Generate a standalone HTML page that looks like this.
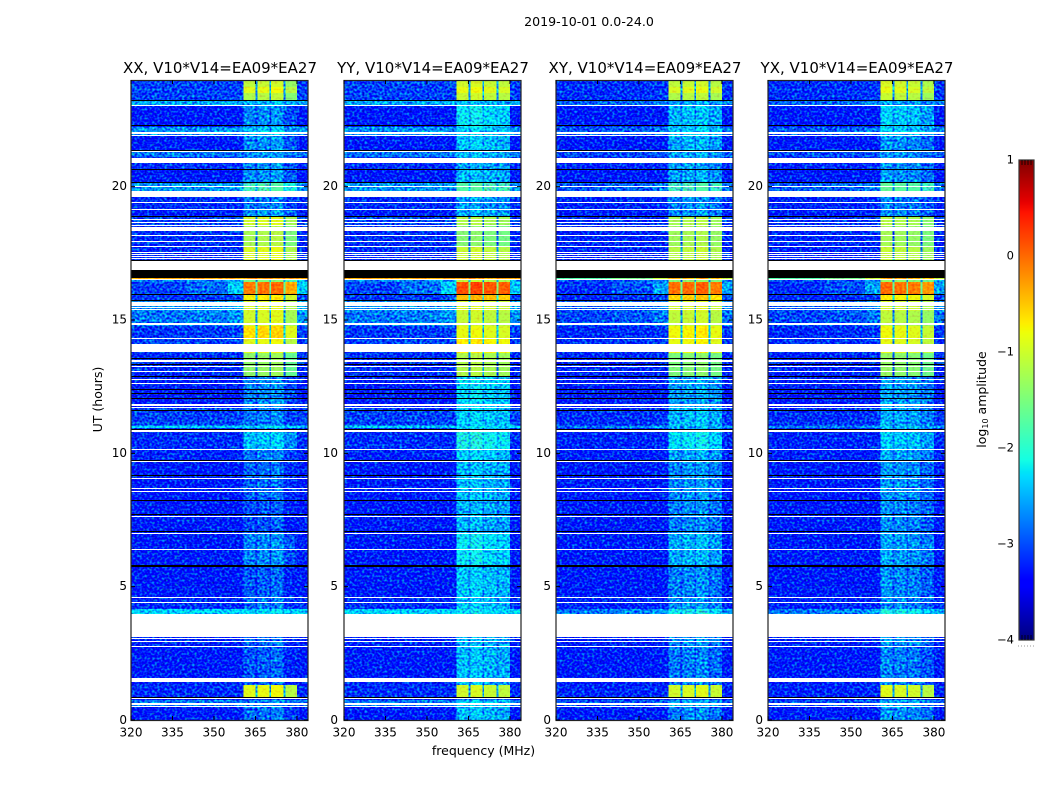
<!DOCTYPE html>
<html>
<head>
<meta charset="utf-8">
<title>2019-10-01 0.0-24.0</title>
<style>
html,body{margin:0;padding:0;background:#fff;}
svg{display:block;font-family:"DejaVu Sans","Liberation Sans",sans-serif;}
text{fill:#000;}
</style>
</head>
<body>
<svg id="chart" xmlns="http://www.w3.org/2000/svg" width="1050" height="800" viewBox="0 0 1050 800">
<defs>
<filter id="speckle" x="0" y="0" width="100%" height="100%" color-interpolation-filters="sRGB">
<feTurbulence type="fractalNoise" baseFrequency="0.4 0.45" numOctaves="1" seed="7" result="n"/>
<feColorMatrix in="n" type="matrix" values="0 0 0 0 0.5  1.9 0 0 0 -0.5  0 1 0 0 0.03  0 0 0 0 1" result="g"/>
<feComposite in="SourceGraphic" in2="g" operator="arithmetic" k1="0" k2="1" k3="1" k4="-0.5" result="m"/>
<feComposite in="m" in2="SourceAlpha" operator="in"/>
</filter>
<filter id="speckle-soft" x="0" y="0" width="100%" height="100%" color-interpolation-filters="sRGB">
<feTurbulence type="fractalNoise" baseFrequency="0.4 0.45" numOctaves="1" seed="11" result="n"/>
<feColorMatrix in="n" type="matrix" values="0 0 0 0 0.5  0.6 0 0 0 0.2  0 0 0 0 0.5  0 0 0 0 1" result="g"/>
<feComposite in="SourceGraphic" in2="g" operator="arithmetic" k1="0" k2="1" k3="1" k4="-0.5" result="m"/>
<feComposite in="m" in2="SourceAlpha" operator="in"/>
</filter>
</defs>
<text x="589" y="26" text-anchor="middle" font-size="12.6">2019-10-01 0.0-24.0</text>
<text x="483.5" y="755" text-anchor="middle" font-size="12.5">frequency (MHz)</text>
<text transform="translate(102 399.5) rotate(-90)" text-anchor="middle" font-size="12.5">UT (hours)</text>
<text transform="translate(986 399.5) rotate(-90)" text-anchor="middle" font-size="12.5">log<tspan font-size="8" dy="2">10</tspan><tspan dy="-2"> amplitude</tspan></text>
<g id="panels"></g>
<g id="colorbar"></g>
</svg>
<script>
/* ---- chart data (log10 amplitude; hours UT; MHz) ---- */
const panelTitles = ['XX, V10*V14=EA09*EA27','YY, V10*V14=EA09*EA27','XY, V10*V14=EA09*EA27','YX, V10*V14=EA09*EA27'];
const freqTicks = [320,335,350,365,380];
const utTicks = [0,5,10,15,20];
const colorbarTicks = [-4,-3,-2,-1,0,1];
/* upper UT bound of each observed time block */
const segmentTopUT = [0.49,0.75,0.87,1.31,1.61,2.81,3.98,4.16,4.58,5.78,7.01,8.21,9.68,10.16,10.8,10.95,11.04,11.7,12.9,13.76,14.29,14.78,15.34,15.71,15.94,16.43,16.54,16.6,17.21,17.74,18.53,18.86,19.12,19.84,20.14,20.63,21.11,21.3,21.9,22.24,23.06,23.21,23.51,23.74,24];
const backgroundLevel = [-3.2,-2.75,-3.2,-3.1,-3.15,-3.2,-3.15,-2.3,-3.1,-3.2,-3.2,-3.2,-3.2,-3.15,-3.1,-3.1,-2.3,-3,-3.2,-3.1,-3,-3.05,-2.75,-2.65,-3.05,-3,-2.7,-0.35,-3.1,-3.1,-3.1,-3,-3.2,-3.1,-2.6,-3.2,-3.1,-2.75,-3.2,-2.6,-3.2,-2.5,-3,-3,-3];
const shoulderLevel = [-3.2,-2.75,-3.2,-3.1,-3.15,-3.2,-3.15,-2.3,-3.1,-3.2,-3.2,-3.2,-3.2,-3.15,-3.1,-3.1,-2.3,-3,-3.2,-3.1,-3,-3,-2.6,-2.5,-2.95,-2.3,-2.5,-0.35,-3.1,-3.1,-3.1,-3,-3.2,-3.1,-2.6,-3.2,-3.1,-2.75,-3.2,-2.6,-3.2,-2.5,-3,-3,-3];
const rfiXX = [-2.75,-2.7,-3,-0.85,-2.85,-2.85,-2.8,-2.25,-2.75,-2.85,-2.65,-2.9,-2.8,-2.7,-2.35,-2.75,-2.3,-2.7,-2.65,-1.35,-0.85,-0.6,-0.95,-0.9,-0.7,-0.05,-1.5,-0.35,-0.9,-0.9,-1.2,-0.95,-2.55,-2.7,-1.8,-2.6,-2.6,-2.6,-2.6,-2.3,-2.65,-2.4,-1.15,-0.85,-1.05];
const rfiYY = [-2.4,-2.3,-2.8,-1,-2.45,-2.4,-2.45,-2.2,-2.35,-2.35,-2.2,-2.45,-2.4,-2.3,-2.1,-2.4,-2.3,-2.3,-2.25,-1.2,-0.7,-0.85,-1.05,-0.95,-0.45,0.15,-1.1,-0.35,-1,-1.05,-1.45,-1.2,-2.45,-2.55,-1.75,-2.4,-2.5,-2.4,-2.35,-2.3,-2.2,-2.4,-1.05,-0.85,-1];
const rfiXY = [-2.65,-2.5,-2.9,-0.95,-2.7,-2.7,-2.6,-2.1,-2.6,-2.65,-2.45,-2.65,-2.6,-2.5,-2.2,-2.5,-2.4,-2.4,-2.5,-1.45,-0.8,-0.75,-1.05,-0.95,-0.55,0,-1.4,-0.35,-1.1,-1.1,-1.25,-1.2,-2.6,-2.65,-1.8,-2.5,-2.55,-2.5,-2.45,-2.3,-2.4,-2.5,-1.15,-0.9,-1.05];
const rfiYX = [-2.6,-2.5,-2.9,-0.95,-2.7,-2.7,-2.6,-2.1,-2.65,-2.65,-2.55,-2.65,-2.6,-2.5,-2.35,-2.5,-2.4,-2.5,-2.55,-1.4,-0.9,-0.85,-1.15,-1,-0.75,-0.05,-1.4,-0.35,-1.1,-1.1,-1.3,-1.2,-2.65,-2.7,-1.7,-2.6,-2.6,-2.6,-2.6,-2.3,-2.35,-2.5,-1.1,-0.9,-1];
const rfiByPanel = [rfiXX,rfiYY,rfiXY,rfiYX];
/* relative level of the four RFI sub-bands in each polarisation */
const bandOffsetXX = [-0.05,0,0.05,-0.3];
const bandOffsetYY = [0,0.05,-0.05,-0.1];
const bandOffsetXY = [-0.05,0,0.05,-0.1];
const bandOffsetYX = [0.05,0,-0.05,-0.2];
const bandOffsets = [bandOffsetXX,bandOffsetYY,bandOffsetXY,bandOffsetYX];
const backgroundGain = [1,1,0.5,0.5];
/* frequency channels: kind is bg / mid / shoulder / band / gap / edge */
const channelEdgesMHz = [320,340,355,360.6,365,365.7,370,370.7,375.1,375.8,380,384];
const channelKinds = ['bg','mid','shoulder','band','gap','band','gap','band','gap','band','edge'];
/* flagged time ranges, drawn white (no data) */
const flaggedRangesUT = [[0.49,0.52],[0.58,0.62],[0.79,0.82],[1.44,1.59],[2.72,2.76],[2.91,2.95],[3.02,3.06],[3.12,3.98],[4.37,4.41],[4.56,4.6],[6.39,6.43],[6.99,7.03],[7.6,7.64],[8.54,8.58],[8.66,8.7],[9.05,9.09],[9.66,9.7],[10.12,10.16],[10.8,10.88],[11.72,11.75],[11.78,11.84],[12.59,12.62],[12.77,12.8],[13.07,13.1],[13.26,13.29],[13.42,13.45],[13.48,13.51],[13.79,14.09],[14.27,14.31],[14.81,14.9],[15.37,15.41],[15.47,15.5],[15.52,15.66],[16.5,16.54],[16.88,17.21],[17.31,17.33],[17.38,17.4],[17.46,17.48],[17.53,17.56],[17.74,17.77],[17.95,17.98],[18.16,18.19],[18.33,18.5],[18.54,18.57],[18.66,18.69],[18.75,18.78],[19.13,19.16],[19.38,19.41],[19.62,19.85],[20,20.04],[20.89,21.09],[21.29,21.32],[21.89,21.92],[21.99,22.05],[23.05,23.08]];
/* zero-amplitude time ranges, drawn black (below colour scale) */
const zeroRangesUT = [[0.82,0.86],[5.74,5.8],[7.05,7.1],[7.68,7.73],[8.2,8.25],[9.15,9.19],[9.71,9.75],[10.88,10.92],[11.57,11.61],[12.02,12.06],[12.21,12.25],[12.36,12.4],[12.86,12.9],[13.3,13.34],[13.54,13.57],[15.72,15.76],[15.94,15.98],[16.58,16.88],[17.2,17.24],[18.85,18.9],[20.13,20.16],[20.63,20.66],[21.34,21.38],[22.26,22.3],[23.21,23.25]];

/* ---- layout and scales ---- */
const panelLeft = [131,344,556,768];
const yLabelGap = [4,6,5,5];
const panelWidth = 177, plotTop = 80, plotBottom = 720;
const freqMin = 320, freqMax = 384, utMax = 24, colorMin = -4, colorMax = 1;
const softThreshold = -1.8;
const NS = 'http://www.w3.org/2000/svg';
function xScale(p, mhz){ return panelLeft[p] + (mhz-freqMin)/(freqMax-freqMin)*panelWidth; }
function yScale(ut){ return plotBottom - ut/utMax*(plotBottom-plotTop); }
function ramp(t, pts){
  for(let i=1;i<pts.length;i++){
    if(t<=pts[i][0]){
      const a=pts[i-1], b=pts[i];
      return a[1]+(b[1]-a[1])*(t-a[0])/(b[0]-a[0]);
    }
  }
  return pts[pts.length-1][1];
}
function jet(level){
  const t=Math.max(0,Math.min(1,(level-colorMin)/(colorMax-colorMin)));
  const r=ramp(t,[[0,0],[0.35,0],[0.66,1],[0.89,1],[1,0.5]]);
  const g=ramp(t,[[0,0],[0.125,0],[0.375,1],[0.64,1],[0.91,0],[1,0]]);
  const b=ramp(t,[[0,0.5],[0.11,1],[0.34,1],[0.65,0],[1,0]]);
  return 'rgb('+Math.round(r*255)+','+Math.round(g*255)+','+Math.round(b*255)+')';
}
function make(tag, attrs, parent){
  const el=document.createElementNS(NS,tag);
  for(const k in attrs){ el.setAttribute(k,attrs[k]); }
  parent.appendChild(el);
  return el;
}
function cellLevel(p,s,c){
  const bg=-3.2+backgroundGain[p]*(backgroundLevel[s]+3.2);
  const sh=Math.max(bg,-3.2+(backgroundGain[p]+1)/2*(shoulderLevel[s]+3.2));
  const rfi=rfiByPanel[p][s];
  const kind=channelKinds[c];
  if(kind==='bg'){ return bg; }
  if(kind==='mid'){ return bg+0.3*(sh-bg); }
  if(kind==='shoulder'||kind==='edge'){ return sh; }
  if(kind==='gap'){ return rfi<-1.9 ? Math.max(rfi-0.3,bg) : Math.max(rfi-1.6,bg+0.2); }
  const bandIndex=channelKinds.slice(0,c).filter(function(k){return k==='band';}).length;
  return Math.max(bg,rfi+bandOffsets[p][bandIndex]);
}

/* ---- draw panels ---- */
const panelsRoot=document.getElementById('panels');
panelTitles.forEach(function(title,p){
  const g=make('g',{},panelsRoot);
  
  
  const titleEl=make('text',{x:panelLeft[p]+panelWidth/2+0.5,y:73,'text-anchor':'middle','font-size':15},g);
  
  
  titleEl.textContent=title;
  const cells=make('g',{filter:'url(#speckle)','shape-rendering':'crispEdges'},g);
  
  
  const brightCells=make('g',{filter:'url(#speckle-soft)','shape-rendering':'crispEdges'},g);
  
  
  segmentTopUT.forEach(function(top,s){
    const bottom=s===0?0:segmentTopUT[s-1];
    channelKinds.forEach(function(kind,c){
      const x0=xScale(p,channelEdgesMHz[c]), x1=xScale(p,channelEdgesMHz[c+1]);
      const y0=yScale(top), y1=yScale(bottom);
      const level=cellLevel(p,s,c);
      const cell=make('rect',{x:x0,y:y0,width:x1-x0,height:y1-y0,fill:jet(level)},level>softThreshold?brightCells:cells);
      
      
    });
  });
  function drawRanges(ranges,color,name){
    ranges.forEach(function(r){
      const y0=Math.round(yScale(r[1])), y1=Math.round(yScale(r[0]));
      const bar=make('rect',{x:panelLeft[p],y:y0,width:panelWidth,height:Math.max(1,y1-y0),fill:color,'shape-rendering':'crispEdges'},g);
      
      
    });
  }
  drawRanges(flaggedRangesUT,'#fff','flagged-time-range');
  drawRanges(zeroRangesUT,'#000','zero-amplitude-time-range');
  const frame=make('rect',{x:panelLeft[p],y:plotTop+0.5,width:panelWidth,height:plotBottom-plotTop,fill:'none',stroke:'#222','stroke-width':1.2},g);
  
  
  freqTicks.forEach(function(f){
    const x=xScale(p,f);
    make('path',{d:'M'+x+' '+plotBottom+'v-4M'+x+' '+plotTop+'v4',stroke:'#000','stroke-width':1,fill:'none'},g);
    const t=make('text',{x:x,y:plotBottom+16.5,'text-anchor':'middle','font-size':12},g);
    
    
    t.textContent=String(f);
  });
  utTicks.forEach(function(u){
    const y=yScale(u);
    const xl=panelLeft[p], xr=panelLeft[p]+panelWidth;
    make('path',{d:'M'+xl+' '+y+'h4M'+xr+' '+y+'h-4',stroke:'#000','stroke-width':1,fill:'none'},g);
    const t=make('text',{x:xl-yLabelGap[p],y:y+(u===0?4:3.5),'text-anchor':'end','font-size':12},g);
    
    
    t.textContent=String(u);
  });
});

/* ---- draw colorbar ---- */
const cbar=document.getElementById('colorbar');
const cbarX=1019, cbarW=15, cbarTop=160, cbarBottom=640;
function cbarScale(level){ return cbarBottom-(level-colorMin)/(colorMax-colorMin)*(cbarBottom-cbarTop); }
const cbarSteps=240;
for(let i=0;i<cbarSteps;i++){
  const lv=colorMin+(colorMax-colorMin)*i/cbarSteps;
  const lvNext=colorMin+(colorMax-colorMin)*(i+1)/cbarSteps;
  const swatch=make('rect',{x:cbarX,y:cbarScale(lvNext),width:cbarW,height:cbarScale(lv)-cbarScale(lvNext)+0.5,fill:jet(lv),'shape-rendering':'crispEdges'},cbar);
  
  
}
const cbarFrame=make('rect',{x:cbarX,y:cbarTop,width:cbarW,height:cbarBottom-cbarTop,fill:'none',stroke:'#333','stroke-width':1.2},cbar);


[cbarX+3,cbarX+6,cbarX+9,cbarX+12].forEach(function(x){
  make('path',{d:'M'+x+' '+cbarTop+'v5M'+x+' '+cbarBottom+'v-5',stroke:'#000','stroke-width':0.8,fill:'none'},cbar);
});
for(let i=0;i<6;i++){
  make('rect',{x:cbarX-1+i*3,y:cbarBottom+5.5,width:1,height:1,fill:'#999'},cbar);
}
colorbarTicks.forEach(function(v){
  const t=make('text',{x:cbarX-5,y:cbarScale(v)+3.5,'text-anchor':'end','font-size':11.5},cbar);
  
  
  t.textContent=v<0?'\u2212'+Math.abs(v):String(v);
});
</script>
</body>
</html>
